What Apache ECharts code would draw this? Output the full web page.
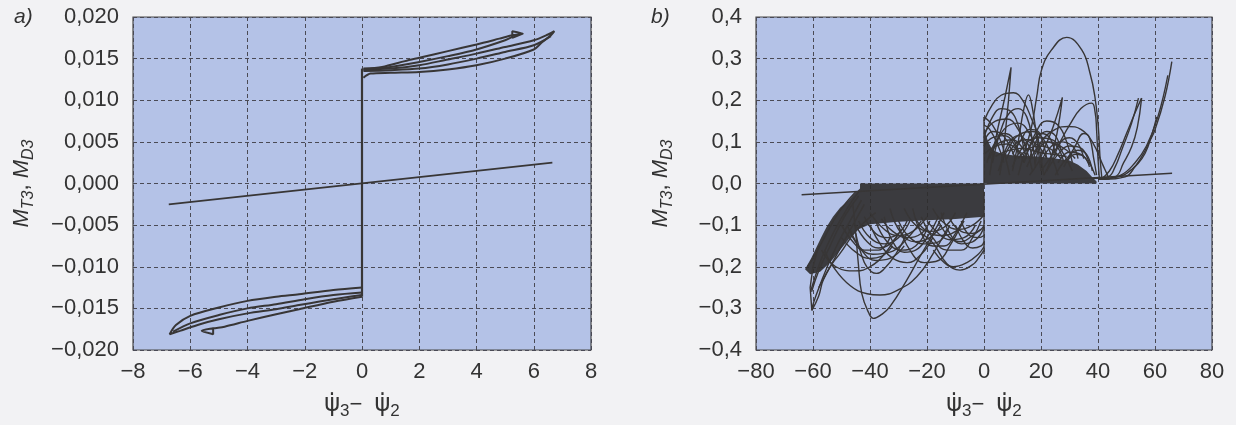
<!DOCTYPE html>
<html><head><meta charset="utf-8">
<script src="https://cdn.jsdelivr.net/npm/echarts@6/dist/echarts.min.js"></script>
<style>html,body{margin:0;padding:0;background:#f2f2f4}#c{width:1236px;height:425px}</style>
</head><body><div id="c"></div>
<script>
// ---------- tick values ----------
const aXTicks = [-8,-6,-4,-2,0,2,4,6,8];
const aYTicks = [-0.020,-0.015,-0.010,-0.005,0,0.005,0.010,0.015,0.020];
const bXTicks = [-80,-60,-40,-20,0,20,40,60,80];
const bYTicks = [-0.4,-0.3,-0.2,-0.1,0,0.1,0.2,0.3,0.4];

// ---------- panel a ----------
const aLinear = [[-6.75,-0.0025],[6.65,0.0025]];
const aVertical = [[0,-0.0136],[0,0.0138]];
const aUpper1 = [[0.05,0.0137],[1,0.0138],[2,0.0142],[3,0.0149],[4,0.0156],[5,0.0164],[6,0.0172],[6.5,0.0179],[6.72,0.0183],[6.6,0.0178],[6.3,0.0170],[6,0.0161],[5,0.0150],[4,0.0142],[3,0.0137],[2,0.0134],[1,0.0133],[0.3,0.0132],[0.05,0.0127]];
const aUpper2 = [[0.05,0.0135],[1,0.0136],[2,0.0138],[3,0.0143],[4,0.0150],[5,0.0158],[6,0.0166],[6.6,0.0177]];
const aUpper3 = [[0.05,0.0138],[0.7,0.0140],[1.5,0.0147],[2,0.0151],[3,0.0159],[4,0.0167],[4.8,0.0174],[5.25,0.0178],[5.62,0.0180],[5.25,0.0183],[5.25,0.0175],[5.62,0.0180]];
const aUpper4 = [[5.25,0.0176],[5.0,0.0172],[4,0.0161],[3,0.0153],[2,0.0146],[1,0.0140],[0.05,0.0137]];
const aLower1 = [[0,-0.0125],[-1,-0.0128],[-2.2,-0.0133],[-3,-0.0136],[-4,-0.0141],[-5,-0.0149],[-6,-0.0159],[-6.5,-0.0170],[-6.72,-0.0181],[-6.36,-0.0177],[-5.66,-0.0169],[-5,-0.0163],[-4,-0.0156],[-3,-0.0151],[-2.2,-0.0146],[-1,-0.0139],[0,-0.0134]];
const aLower2 = [[0,-0.0131],[-1,-0.0134],[-2,-0.0139],[-3,-0.0145],[-4,-0.0150],[-5,-0.0158],[-6,-0.0168],[-6.6,-0.0178]];
const aLower3 = [[0,-0.0136],[-1,-0.0142],[-2.2,-0.0151],[-3,-0.0157],[-4,-0.0165],[-4.8,-0.0172],[-5.2,-0.0174],[-5.6,-0.0177],[-5.2,-0.0181],[-5.2,-0.0173]];

// ---------- panel b ----------
const bLinear = [[-64,-0.027],[66,0.0245]];
const bDenseUp = [[0,0.13],[1.5,0.1],[3,0.08],[6,0.072],[10,0.068],[15,0.066],[20,0.064],[25,0.06],[30,0.055],[33,0.045],[36,0.03],[38,0.015],[39.5,0.005]];
const bDenseLow = [[-43.5,-0.012],[-45.5,-0.025],[-47.5,-0.04],[-50.5,-0.058],[-53,-0.08],[-55.2,-0.104],[-57,-0.128],[-58.7,-0.152],[-60.5,-0.178],[-62.8,-0.206],[-61,-0.218],[-57.5,-0.212],[-54,-0.19],[-50.5,-0.16],[-47,-0.13],[-44,-0.11],[-40,-0.098],[-30,-0.092],[-20,-0.088],[-10,-0.085],[0,-0.08]];
const bEdgeUp = [[0,0.0],[0,0.16]];
const bEdgeLow = [[0,-0.02],[0,-0.17]];
const bU1 = [[12,0.02],[14,0.07],[16.7,0.137],[18.5,0.209],[20.2,0.273],[23.7,0.321],[29,0.351],[34.3,0.321],[37.2,0.265],[38.9,0.209],[40.1,0.136],[40.7,0.064],[41.3,0.016]];
const bU2 = [[2,0.02],[3.3,0.08],[5,0.137],[7.4,0.209],[9.5,0.279],[8.6,0.2],[7.6,0.13],[6.5,0.06],[5.5,0.02]];
const bU3 = [[16,0.02],[19,0.05],[21.4,0.088],[24.3,0.137],[27.5,0.207],[25.6,0.12],[23,0.05],[21,0.02]];
const bU4 = [[0,0.15],[3,0.19],[6,0.212],[10.3,0.218],[14,0.195],[17,0.15],[18.5,0.125],[20,0.06],[21,0.02]];
const bU5 = [[10,0.03],[12,0.1],[14,0.18],[15.6,0.213],[17,0.18],[18.5,0.11],[20,0.03]];
const bU6 = [[20,0.03],[25,0.08],[30,0.14],[34,0.18],[37.8,0.193],[39,0.17],[39.5,0.129],[40,0.06],[40.5,0.01]];
const bU7 = [[15,0.04],[20,0.10],[25,0.13],[29.6,0.137],[34,0.13],[38,0.10],[42,0.04],[44,0.01]];
const bU8 = [[0,0.16],[3,0.14],[6,0.10],[8,0.05],[9,0.02]];
const bU9 = [[0,0.12],[4,0.15],[8,0.155],[12,0.13],[15,0.08],[17,0.03]];
const bU10 = [[5,0.03],[9,0.09],[13,0.12],[17,0.125],[21,0.105],[24,0.06],[26,0.02]];
const bU11 = [[10,0.04],[14,0.09],[19,0.11],[24,0.105],[28,0.07],[31,0.03]];
const bU12 = [[22,0.03],[26,0.07],[30,0.09],[34,0.085],[37,0.05],[39,0.02]];
const bU13 = [[0,0.09],[3,0.11],[7,0.115],[11,0.09],[14,0.05]];
const bU14 = [[3,0.05],[6,0.13],[9,0.17],[12,0.18],[15,0.16],[17,0.1],[18,0.04]];
const bU15 = [[18,0.05],[20,0.09],[23,0.1],[26,0.085],[28,0.05]];
const bU16 = [[25,0.02],[29,0.06],[33,0.08],[36,0.07],[38,0.03]];
const bU17 = [[28,0.04],[32,0.09],[35,0.12],[37,0.11],[38.5,0.06],[39.5,0.02]];
const bU18 = [[0,0.07],[4,0.09],[8,0.095],[12,0.08],[15,0.06]];
const bU19 = [[12,0.06],[16,0.085],[20,0.09],[24,0.08],[27,0.06]];
const bU20 = [[26,0.05],[30,0.075],[34,0.07],[37,0.045]];
const bU21 = [[2,0.06],[7,0.13],[12,0.145],[16,0.12],[19,0.07]];
const bU22 = [[0,0.14],[2,0.13],[5,0.09],[7,0.05]];
const bU23 = [[1,0.05],[4,0.1],[7,0.12],[10,0.11],[12,0.07]];
const bU24 = [[6,0.05],[9,0.1],[12,0.115],[15,0.1],[17,0.06]];
const bU25 = [[14,0.05],[17,0.1],[20,0.12],[23,0.11],[25,0.07]];
const bU26 = [[20,0.05],[23,0.085],[27,0.1],[31,0.09],[33,0.06]];
const bU27 = [[8,0.06],[11,0.095],[15,0.105],[19,0.09],[22,0.06]];
const bU28 = [[16,0.06],[19,0.11],[22,0.125],[25,0.115],[27,0.08]];
const bU29 = [[24,0.05],[27,0.1],[30,0.11],[33,0.095],[35,0.06]];
const bU30 = [[0,0.1],[3,0.125],[6,0.12],[9,0.09],[11,0.06]];
const bU31 = [[3,0.08],[6,0.1],[10,0.105],[13,0.09],[15,0.065]];
const bU32 = [[10,0.07],[13,0.105],[16,0.13],[19,0.125],[21,0.09],[22,0.06]];
const bU33 = [[29,0.05],[32,0.07],[35,0.065],[37,0.04]];
const bU34 = [[4,0.065],[9,0.08],[14,0.085],[19,0.075],[24,0.07],[29,0.065]];
const bU35 = [[18,0.07],[21,0.1],[25,0.095],[29,0.08],[32,0.06]];
const bU36 = [[0,0.11],[3,0.16],[6,0.18],[9,0.175],[12,0.14],[14,0.08]];
const bU37 = [[14,0.05],[18,0.12],[22,0.15],[26,0.14],[29,0.1],[31,0.05]];
const bR1 = [[38,0.012],[43.5,0.016],[46,0.04],[48.3,0.08],[51.8,0.145],[54.2,0.205]];
const bR2 = [[40,0.01],[46,0.016],[49,0.05],[51.8,0.088],[53.8,0.135],[55.3,0.205]];
const bR3 = [[40,0.012],[47,0.016],[52,0.035],[55.3,0.064],[58,0.10],[60,0.129],[63.5,0.209],[65.9,0.293]];
const bR4 = [[42,0.01],[49.5,0.016],[53,0.04],[56.5,0.072],[59,0.12],[60.6,0.16]];
const bR5 = [[41,0.01],[48,0.02],[53,0.05],[57,0.09],[61,0.16],[64.5,0.26]];
const bR6 = [[55.3,0.205],[53,0.17],[50,0.12],[47,0.07],[44,0.03],[41,0.01]];
const bL1 = [[-46,-0.05],[-45,-0.12],[-44.1,-0.192],[-42.9,-0.264],[-40.5,-0.31],[-38.8,-0.324],[-36,-0.315],[-33,-0.296],[-27.1,-0.232],[-22.5,-0.176],[-17.8,-0.12],[-14,-0.07]];
const bL2 = [[-56,-0.16],[-52.9,-0.2],[-47,-0.245],[-41,-0.265],[-36.5,-0.268],[-30,-0.255],[-23.6,-0.224],[-17.8,-0.168],[-13,-0.11]];
const bL3 = [[-45,-0.12],[-42,-0.19],[-39.5,-0.212],[-37.7,-0.216],[-35,-0.205],[-31,-0.17],[-27,-0.12]];
const bL4 = [[-22,-0.12],[-17.8,-0.144],[-13.1,-0.192],[-8.4,-0.208],[-4,-0.195],[-2,-0.18],[0,-0.16]];
const bL5 = [[-17.8,-0.16],[-14,-0.19],[-10.8,-0.2],[-6,-0.19],[-2,-0.17],[0,-0.152]];
const bL6 = [[-30,-0.1],[-26,-0.16],[-21,-0.19],[-16,-0.185],[-12,-0.15],[-8,-0.1]];
const bL7 = [[-60.4,-0.305],[-58,-0.27],[-56.4,-0.232],[-53,-0.19],[-50.5,-0.168],[-44.7,-0.112],[-38,-0.07]];
const bL8 = [[-58,-0.15],[-60,-0.2],[-61,-0.25],[-60.4,-0.305]];
const bL9 = [[-57,-0.16],[-52,-0.2],[-45,-0.21],[-40,-0.2],[-35,-0.17],[-30,-0.12]];
const bL10 = [[-48,-0.1],[-44,-0.15],[-39,-0.17],[-33,-0.165],[-28,-0.14],[-22,-0.09]];
const bL11 = [[-35,-0.08],[-32,-0.14],[-28,-0.165],[-24,-0.16],[-20,-0.13],[-16,-0.08]];
const bL12 = [[-25,-0.06],[-22,-0.12],[-18,-0.15],[-14,-0.15],[-10,-0.12],[-6,-0.07]];
const bL13 = [[-15,-0.07],[-12,-0.12],[-8,-0.145],[-4,-0.14],[-1,-0.12],[0,-0.1]];
const bL14 = [[-10,-0.1],[-7,-0.14],[-4,-0.155],[-1,-0.15],[0,-0.14]];
const bL15 = [[-50,-0.13],[-45,-0.165],[-40,-0.18],[-36,-0.175],[-32,-0.15]];
const bL16 = [[-40,-0.1],[-36,-0.15],[-32,-0.18],[-27,-0.19],[-22,-0.17],[-18,-0.13]];
const bL17 = [[-22,-0.08],[-18,-0.13],[-13,-0.16],[-8,-0.16],[-4,-0.13],[-1,-0.09]];
const bL18 = [[-44,-0.02],[-48,-0.06],[-53,-0.12],[-57,-0.18],[-60.7,-0.256]];
const bL19 = [[-40,-0.07],[-35,-0.11],[-30,-0.125],[-25,-0.115],[-20,-0.08]];
const bL20 = [[-28,-0.06],[-24,-0.10],[-19,-0.115],[-14,-0.105],[-10,-0.07]];
const bL21 = [[-18,-0.06],[-14,-0.095],[-9,-0.11],[-4,-0.1],[0,-0.075]];
const bL22 = [[-44,-0.09],[-40,-0.13],[-35,-0.145],[-30,-0.13],[-26,-0.09]];
const bL23 = [[-33,-0.06],[-29,-0.12],[-24,-0.14],[-19,-0.13],[-15,-0.1]];
const bL24 = [[-42,-0.08],[-38,-0.12],[-34,-0.13],[-30,-0.12],[-27,-0.09]];
const bL25 = [[-36,-0.085],[-32,-0.115],[-27,-0.13],[-22,-0.12],[-19,-0.09]];
const bL26 = [[-24,-0.085],[-20,-0.115],[-15,-0.125],[-10,-0.115],[-7,-0.09]];
const bL27 = [[-12,-0.085],[-8,-0.115],[-4,-0.12],[-1,-0.11],[0,-0.1]];
const bL28 = [[-45,-0.1],[-41,-0.14],[-37,-0.155],[-33,-0.145],[-29,-0.11]];
const bL29 = [[-30,-0.09],[-26,-0.13],[-21,-0.145],[-16,-0.14],[-12,-0.1]];
const bL30 = [[-20,-0.09],[-16,-0.12],[-12,-0.135],[-7,-0.13],[-3,-0.1]];
const bL31 = [[-8,-0.09],[-5,-0.125],[-2,-0.13],[0,-0.125]];
const bL32 = [[-50,-0.1],[-46,-0.14],[-42,-0.16],[-37,-0.16],[-33,-0.13]];
const bL33 = [[-44,-0.03],[-49,-0.08],[-54,-0.15],[-58,-0.21],[-60.5,-0.26]];
const bL34 = [[-43,-0.04],[-47,-0.09],[-51,-0.14],[-55,-0.2],[-59,-0.27],[-60.4,-0.3]];
const bL35 = [[-42,-0.05],[-46,-0.1],[-50,-0.15],[-54,-0.2],[-58,-0.25]];
const bL36 = [[-45,-0.02],[-51,-0.07],[-56,-0.13],[-60,-0.18],[-62,-0.2]];
const bL37 = [[-38,-0.09],[-34,-0.14],[-29,-0.16],[-24,-0.15],[-20,-0.11]];
const bL38 = [[-16,-0.09],[-12,-0.13],[-8,-0.14],[-4,-0.125],[-1,-0.11]];
const bL39 = [[-47,-0.11],[-43,-0.16],[-38,-0.185],[-33,-0.18],[-28,-0.15]];

const aCurves = [aUpper1,aUpper2,aUpper3,aUpper4,aLower1,aLower2,aLower3];
const bArcs = [bU1,bU3,bU4,bU5,bU6,bU7,bU8,bU9,bU10,bU11,bU12,bU13,bU14,bU15,bU16,bU17,bU18,bU19,bU20,bU21,bU22,
  bU23,bU24,bU25,bU26,bU27,bU28,bU29,bU30,bU31,bU32,bU33,bU34,bU35,bU36,bU37,
  bR1,bR2,bR3,bR4,bR5,bR6,
  bL1,bL2,bL3,bL4,bL5,bL6,bL7,bL9,bL10,bL11,bL12,bL13,bL14,bL15,bL16,bL17,bL18,bL19,bL20,bL21,bL22,bL23,
  bL24,bL25,bL26,bL27,bL28,bL29,bL30,bL31,bL32,bL33,bL34,bL35,bL36,bL37,bL38,bL39];
const bSharp = [bU2,bL8,bEdgeUp,bEdgeLow];

// ---------- styling ----------
const FONT = '"Liberation Sans", Arial, sans-serif';
const GREEK = '"DejaVu Sans", sans-serif';
const TXT = '#333';
const INK = '#383636';
const PLOT = '#b4c2e7';

function fmt(d){ return v => (v < 0 ? '\u2212' : '') + Math.abs(v).toFixed(d).replace('.', ','); }
function xAx(ticks, grid, d){
  return {type:'value', gridIndex:grid, min:ticks[0], max:ticks[ticks.length-1], interval:ticks[1]-ticks[0],
    axisLine:{show:false}, axisTick:{show:false},
    axisLabel:{formatter:fmt(d), color:TXT, fontSize:22, fontFamily:FONT, margin:11},
    splitLine:{show:true, lineStyle:{color:'#4a4a55', width:1, type:[4,3]}},
    name:'{n|\u03C8\u0307}{s|3}{m|\u2212  }{n|\u03C8\u0307}{s|2}', nameLocation:'middle', nameGap:40,
    nameTextStyle:{color:TXT, fontFamily:FONT, rich:{
      n:{fontSize:24, fontFamily:GREEK, color:TXT, lineHeight:30},
      m:{fontSize:22, fontFamily:FONT, color:TXT, lineHeight:30},
      s:{fontSize:17, fontFamily:FONT, color:TXT, verticalAlign:'bottom', lineHeight:16}}}};
}
function yAx(ticks, grid, d, gap){
  return {type:'value', gridIndex:grid, min:ticks[0], max:ticks[ticks.length-1], interval:+(ticks[1]-ticks[0]).toFixed(6),
    axisLine:{show:false}, axisTick:{show:false},
    axisLabel:{formatter:fmt(d), color:TXT, fontSize:22, fontFamily:FONT, margin:14},
    splitLine:{show:true, lineStyle:{color:'#4a4a55', width:1, type:[4,3]}},
    name:'{m|M}{s|T3}{c|, }{m|M}{s|D3}', nameLocation:'middle', nameRotate:90, nameGap:gap,
    nameTextStyle:{color:TXT, fontFamily:FONT, rich:{
      m:{fontSize:22, fontStyle:'italic', fontFamily:FONT, color:TXT, lineHeight:30},
      c:{fontSize:22, fontFamily:FONT, color:TXT, lineHeight:30},
      s:{fontSize:16, fontStyle:'italic', fontFamily:FONT, color:TXT, verticalAlign:'bottom', lineHeight:16}}}};
}
function lineSeries(data, gi, w, smooth){
  return {type:'line', xAxisIndex:gi, yAxisIndex:gi, data:data, symbol:'none', smooth:smooth,
    lineStyle:{color:INK, width:w}, silent:true, z:4};
}
function areaSeries(data){
  return {type:'line', xAxisIndex:1, yAxisIndex:1, data:data, symbol:'none', smooth:false,
    lineStyle:{width:0, color:INK}, areaStyle:{color:'#2e2c2c', opacity:0.9, origin:0}, silent:true, z:3};
}

const series = [];
aCurves.forEach(d => series.push(lineSeries(d, 0, 2, 0.3)));
series.push(lineSeries(aVertical, 0, 2.2, false));
series.push(lineSeries(aLinear, 0, 1.7, false));
series.push(areaSeries(bDenseUp));
series.push(areaSeries(bDenseLow));
bArcs.forEach(d => series.push(lineSeries(d, 1, 1.4, 0.45)));
bSharp.forEach(d => series.push(lineSeries(d, 1, 1.4, false)));
series.push(lineSeries(bLinear, 1, 1.6, false));

const chart = echarts.init(document.getElementById('c'), null, {renderer:'canvas'});
chart.setOption({
  backgroundColor:'#f2f2f4',
  animation:false,
  grid:[
    {left:133, top:17, width:458, height:333, show:true, backgroundColor:PLOT, borderColor:'#4a4a4a', borderWidth:1.2},
    {left:756, top:17, width:456, height:333, show:true, backgroundColor:PLOT, borderColor:'#4a4a4a', borderWidth:1.2}
  ],
  xAxis:[xAx(aXTicks,0,0), xAx(bXTicks,1,0)],
  yAxis:[yAx(aYTicks,0,3,96), yAx(bYTicks,1,1,80)],
  graphic:[
    {type:'text', left:14, top:7, style:{text:'a)', font:'italic 21px ' + FONT, fill:TXT}},
    {type:'text', left:651, top:7, style:{text:'b)', font:'italic 21px ' + FONT, fill:TXT}}
  ],
  series:series
});
</script></body></html>
